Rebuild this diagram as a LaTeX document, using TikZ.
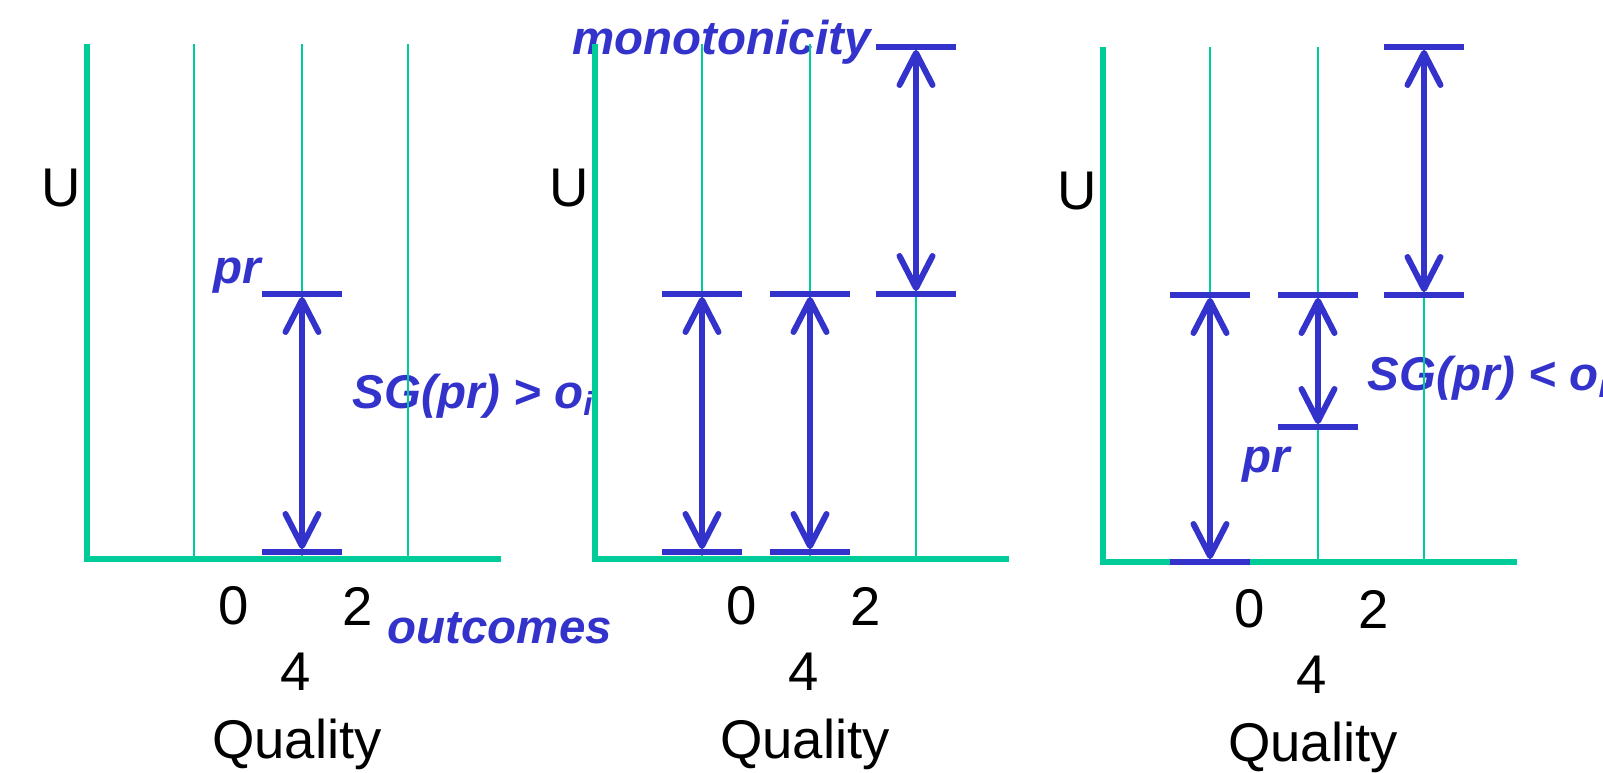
\documentclass[tikz,border=0pt]{standalone}
\usepackage{fontspec}
\setmainfont{Liberation Sans}
\usepackage{xcolor}
\usepackage{tikz}
\usetikzlibrary{arrows.meta,calc}
\definecolor{axisgreen}{RGB}{0,204,153}
\definecolor{markblue}{RGB}{51,51,204}
\tikzset{
  axisline/.style={line width=1.7pt,axisgreen},
  gridline/.style={line width=0.6pt,axisgreen},
  bar/.style={fill=markblue,minimum width=8mm,minimum height=1.7pt,inner sep=0pt,outer sep=0pt},
  span/.style={line width=1.7pt,markblue,
    {Straight Barb[length=3.2mm,width=3.3mm,round]}-{Straight Barb[length=3.2mm,width=3.3mm,round]}},
  tag/.style={font=\fontsize{13.5}{16}\selectfont\bfseries\itshape,text=markblue,inner sep=0pt},
  axlabel/.style={font=\fontsize{15.5}{18}\selectfont,text=black,inner sep=0pt}
}

\begin{document}
\begin{tikzpicture}[x=0.01cm,y=-0.01cm]
  \useasboundingbox (0,0) rectangle (1603,773);
  \node[tag,anchor=base west] (sg1) at (352,408) {SG(pr) > o\textsubscript{i}};
  \node[tag,anchor=base west] (pr1) at (213,283) {pr};
  \node[tag,anchor=base west] (outc) at (387,643) {outcomes};
  \node[tag,anchor=base west] (mono) at (572,55) {monotonicity};
  \node[tag,anchor=base west] (pr3) at (1242,472) {pr};
  \node[tag,anchor=base west] (sg3) at (1367,390) {SG(pr) < o\textsubscript{i}};

  \foreach \p/\ox/\oy in {1/87/559,2/595/559,3/1103/562}{
    \coordinate (o\p) at (\ox,\oy);
    \draw[axisline] (\ox,\oy-515) -- (o\p) -- ++(414,0);
    \foreach \dx in {107,215,321}
      \draw[gridline] (\ox+\dx,\oy) -- (\ox+\dx,\oy-515);
    \node[axlabel] (u\p) at (\ox-26,\oy-371) {U};
    \node[axlabel] (zero\p) at (\ox+147,\oy+47) {0};
    \node[axlabel] (two\p) at (\ox+271,\oy+47) {2};
    \node[axlabel] (four\p) at (\ox+209,\oy+113) {4};
    \node[axlabel,anchor=base] (qual\p) at (\ox+210,\oy+199) {Quality};
  }

  \node[bar] (a1) at (302,294) {};
  \node[bar] (b1) at (302,552) {};
  \draw[span] (a1) -- (b1);

  \node[bar] (a2) at (702,294) {};
  \node[bar] (b2) at (702,552) {};
  \node[bar] (c2) at (810,294) {};
  \node[bar] (d2) at (810,552) {};
  \node[bar] (e2) at (916,294) {};
  \node[bar] (f2) at (916,47) {};
  \draw[span] (a2) -- (b2);
  \draw[span] (c2) -- (d2);
  \draw[span] (e2) -- (f2);

  \node[bar] (a3) at (1210,295) {};
  \node[bar] (b3) at (1210,562) {};
  \node[bar] (c3) at (1318,295) {};
  \node[bar] (d3) at (1318,427) {};
  \node[bar] (e3) at (1424,295) {};
  \node[bar] (f3) at (1424,47) {};
  \draw[span] (a3) -- (b3);
  \draw[span] (c3) -- (d3);
  \draw[span] (e3) -- (f3);
\end{tikzpicture}
\end{document}
